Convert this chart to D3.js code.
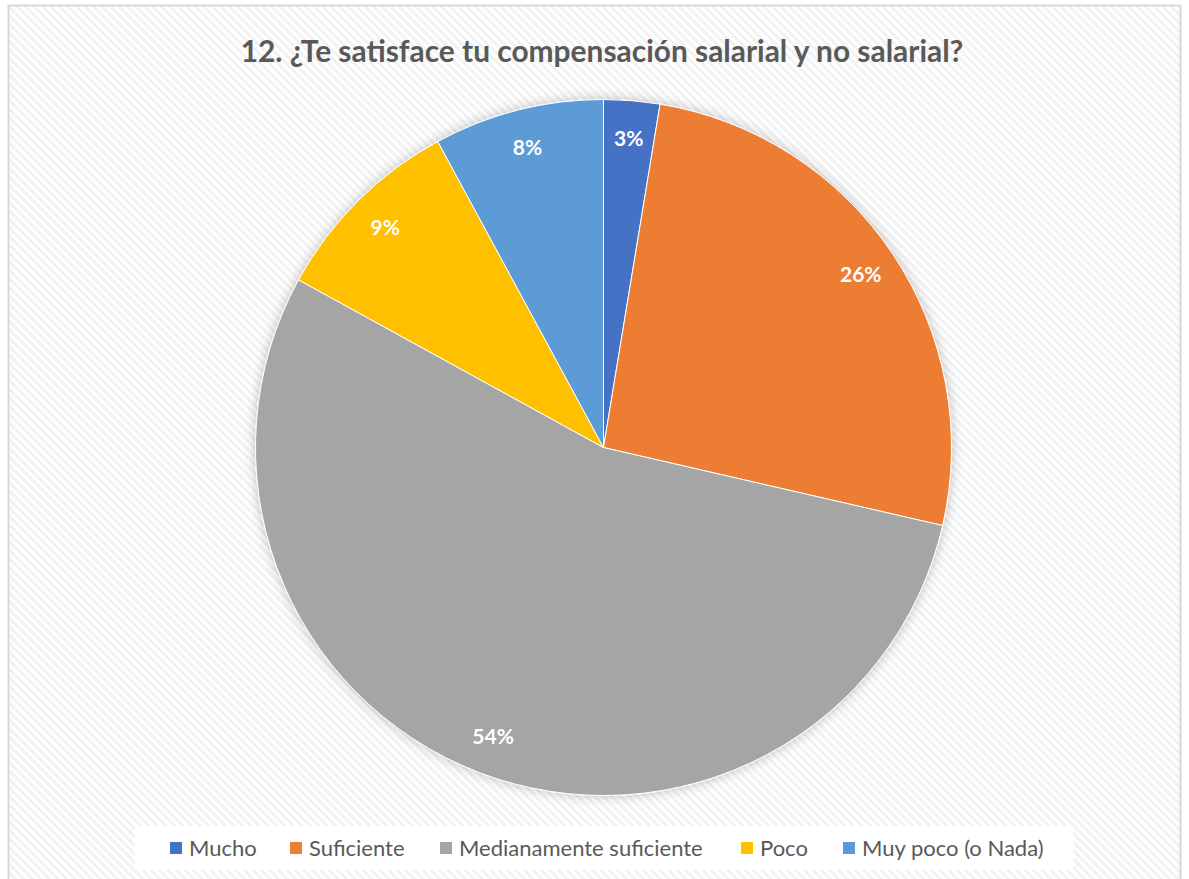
<!DOCTYPE html>
<html><head><meta charset="utf-8">
<script src="https://cdn.jsdelivr.net/npm/d3@7"></script>
<style>body{margin:0;background:#fff}svg{display:block}</style>
</head><body>
<script>
const categories = ["Mucho","Suficiente","Medianamente suficiente","Poco","Muy poco (o Nada)"];
const values = [2.6,26.0,54.4,9.1,7.9];
const labels = ["3%","26%","54%","9%","8%"];
const colors = ["#4472C4","#ED7D31","#A5A5A5","#FFC000","#5B9BD5"];
const title = "12. ¿Te satisface tu compensación salarial y no salarial?";

const W=1189,H=879;
const svg=d3.select("body").append("svg").attr("width",W).attr("height",H);
const defs=svg.append("defs");
const pat=defs.append("pattern").attr("id","hatch").attr("patternUnits","userSpaceOnUse")
  .attr("width",6).attr("height",6).attr("patternTransform","rotate(-45)");
pat.append("rect").attr("width",6).attr("height",6).attr("fill","#ffffff");
pat.append("rect").attr("width",3).attr("height",6).attr("fill","#f2f2f2");
const f=defs.append("filter").attr("id","sh").attr("x","-20%").attr("y","-20%").attr("width","140%").attr("height","140%");
f.append("feGaussianBlur").attr("in","SourceAlpha").attr("stdDeviation",6).attr("result","b");
f.append("feOffset").attr("in","b").attr("dx",0).attr("dy",0).attr("result","o");
f.append("feComponentTransfer").attr("in","o").attr("result","o2").append("feFuncA").attr("type","linear").attr("slope",0.25);
const m=f.append("feMerge"); m.append("feMergeNode").attr("in","o2"); m.append("feMergeNode").attr("in","SourceGraphic");

svg.append("rect").attr("x",8.5).attr("y",5.5).attr("width",1172).attr("height",880)
  .attr("fill","url(#hatch)").attr("stroke","#d9d9d9").attr("stroke-width",2);

const t=svg.append("text").attr("x",602).attr("y",62).attr("text-anchor","middle")
  .attr("font-family","Lato, 'Open Sans', sans-serif").attr("font-weight","bold")
  .attr("font-size",26).attr("fill","#595959").text(title);
const tl=t.node().getComputedTextLength();
t.attr("font-size",26*723/tl);

const cx=603.5, cy=447.5, R=348;
const pie=d3.pie().sort(null).value(d=>d)(values);
const arc=d3.arc().innerRadius(0).outerRadius(R);
const g=svg.append("g").attr("transform",`translate(${cx},${cy})`);
g.append("g").attr("filter","url(#sh)").selectAll("path").data(pie).join("path")
  .attr("d",arc).attr("fill",(d,i)=>colors[i]).attr("stroke","#fff").attr("stroke-width",1);
const larc=d3.arc().innerRadius(R*0.89).outerRadius(R*0.89);
g.selectAll("text.l").data(pie).join("text").attr("class","l")
  .attr("transform",d=>`translate(${larc.centroid(d)})`)
  .attr("text-anchor","middle").attr("dy","0.35em")
  .attr("font-family","Lato, 'Open Sans', sans-serif").attr("font-weight","bold")
  .attr("font-size",21).attr("fill","#fff")
  .text((d,i)=>labels[i]);

svg.append("rect").attr("x",135).attr("y",826).attr("width",938).attr("height",44).attr("fill","#fff");
const legX=[170,290,440,741,843];
const lg=svg.append("g");
categories.forEach((c,i)=>{
  lg.append("rect").attr("x",legX[i]).attr("y",842).attr("width",12).attr("height",12).attr("fill",colors[i]);
  lg.append("text").attr("x",legX[i]+19).attr("y",856).attr("font-family","Lato, 'Open Sans', sans-serif")
    .attr("font-size",22).attr("fill","#595959").text(c);
});
</script>
</body></html>
